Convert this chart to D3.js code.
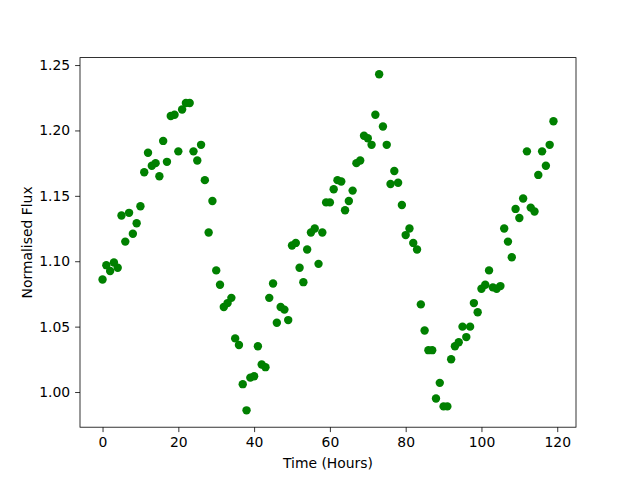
<!DOCTYPE html>
<html>
<head>
<meta charset="utf-8">
<script src="https://cdn.jsdelivr.net/npm/d3@7"></script>
<style>
  body { margin: 0; background: #fff; }
  text { font-family: "DejaVu Sans", sans-serif; }
</style>
</head>
<body>
<script>
// tijd in uren (0..119)
var hours = d3.range(0, 120);

// genormaliseerde flux
var flux = [
  1.086, 1.097, 1.0925, 1.099, 1.095, 1.135, 1.115, 1.137, 1.121, 1.129,
  1.142, 1.168, 1.183, 1.173, 1.175, 1.165, 1.192, 1.176, 1.211, 1.212,
  1.184, 1.216, 1.221, 1.221, 1.184, 1.177, 1.189, 1.162, 1.122, 1.146,
  1.093, 1.082, 1.065, 1.068, 1.072, 1.041, 1.036, 1.006, 0.986, 1.011,
  1.012, 1.035, 1.021, 1.019, 1.072, 1.083, 1.053, 1.065, 1.063, 1.055,
  1.112, 1.114, 1.095, 1.084, 1.109, 1.122, 1.125, 1.098, 1.122, 1.145,
  1.145, 1.155, 1.162, 1.161, 1.139, 1.146, 1.154, 1.175, 1.177, 1.196,
  1.194, 1.189, 1.212, 1.243, 1.203, 1.189, 1.159, 1.169, 1.160, 1.143,
  1.120, 1.125, 1.114, 1.109, 1.067, 1.047, 1.032, 1.032, 0.995, 1.007,
  0.989, 0.989, 1.025, 1.035, 1.038, 1.050, 1.042, 1.050, 1.068, 1.061,
  1.079, 1.082, 1.093, 1.080, 1.079, 1.081, 1.125, 1.115, 1.103, 1.140,
  1.133, 1.148, 1.184, 1.141, 1.138, 1.166, 1.184, 1.173, 1.189, 1.207
];

var xTicks = [0, 20, 40, 60, 80, 100, 120];
var yTicks = [1.00, 1.05, 1.10, 1.15, 1.20, 1.25];

var data = hours.map(function(h, i) { return {t: h, f: flux[i]}; });

// afmetingen zoals matplotlib standaard
var margin = {top: 57.6, right: 64, bottom: 52.8, left: 80},
    width = 640 - margin.left - margin.right,
    height = 480 - margin.top - margin.bottom;

var svg = d3.select("body").append("svg")
    .attr("width", 640)
    .attr("height", 480)
  .append("g")
    .attr("transform", "translate(" + margin.left + "," + margin.top + ")");

var x = d3.scaleLinear().domain([-5.95, 124.95]).range([0, width]);
var y = d3.scaleLinear().domain([0.9731, 1.2557]).range([height, 0]);

// punten
svg.selectAll("circle")
    .data(data)
  .enter().append("circle")
    .attr("cx", function(d) { return x(d.t); })
    .attr("cy", function(d) { return y(d.f); })
    .attr("r", 4.2)
    .attr("fill", "#008000");

// x as
var xAxis = svg.append("g")
    .attr("transform", "translate(0," + height + ")")
    .call(d3.axisBottom(x).tickValues(xTicks).tickSize(4.9).tickPadding(4.9).tickFormat(d3.format("d")));

// y as
var yAxis = svg.append("g")
    .call(d3.axisLeft(y).tickValues(yTicks).tickSize(4.9).tickPadding(4.9).tickFormat(d3.format(".2f")));

[xAxis, yAxis].forEach(function(a) {
  a.select(".domain").remove();
  a.selectAll("line").attr("stroke", "#000").attr("stroke-width", 0.8);
  a.selectAll("text").attr("font-size", "13.9px").attr("fill", "#000")
    .attr("font-family", "DejaVu Sans, sans-serif");
});

// kader
svg.append("rect")
    .attr("width", width)
    .attr("height", height)
    .attr("fill", "none")
    .attr("stroke", "#000")
    .attr("stroke-width", 0.8);

// labels
svg.append("text")
    .attr("x", width / 2)
    .attr("y", height + 41)
    .attr("text-anchor", "middle")
    .attr("font-size", "13.9px")
    .text("Time (Hours)");

svg.append("text")
    .attr("transform", "rotate(-90)")
    .attr("x", -height / 2)
    .attr("y", -48)
    .attr("text-anchor", "middle")
    .attr("font-size", "13.9px")
    .text("Normalised Flux");
</script>
</body>
</html>
